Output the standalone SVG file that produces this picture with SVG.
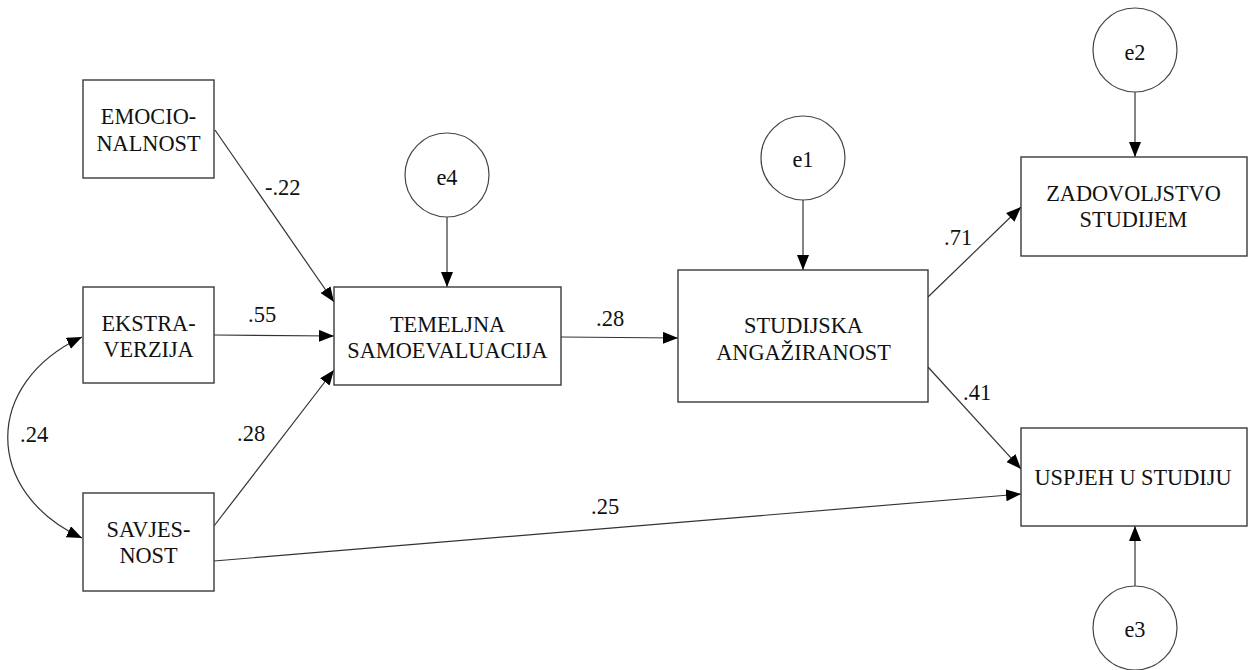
<svg xmlns="http://www.w3.org/2000/svg" width="1249" height="670" viewBox="0 0 1249 670">
<style>
.box{fill:#fff;stroke:#3a3a3a;stroke-width:1.4}
.err{fill:#fff;stroke:#444;stroke-width:1.2}
.con{fill:none;stroke:#333;stroke-width:1.2;marker-end:url(#ah)}
</style>
<defs>
<marker id="ah" markerUnits="userSpaceOnUse" markerWidth="16" markerHeight="13" refX="15" refY="6" orient="auto-start-reverse">
<path d="M0,0 L15,6 L0,12 z" fill="#000"/>
</marker>
</defs>
<rect width="1249" height="670" fill="#fff"/>
<g id="connectors">
<path class="con" d="M215,130 L334,302"/>
<path class="con" d="M214,335 L334,336"/>
<path class="con" d="M214,526 L334,370"/>
<path class="con" d="M447,217 L447,287"/>
<path class="con" d="M561,337 L678,338"/>
<path class="con" d="M803,200 L803,270"/>
<path class="con" d="M928,297 L1021,207"/>
<path class="con" d="M928,367 L1021,469"/>
<path class="con" d="M214,561 L1021,494"/>
<path class="con" d="M1135,91 L1135,157"/>
<path class="con" d="M1135,586 L1135,526"/>
<path class="con" d="M82,337 C-17,383 -17,492 82,538" style="marker-start:url(#ah)"/>
<g font-family="'Liberation Serif', 'Times New Roman', serif" font-size="22.5" fill="#111">
<text x="265" y="195">-.22</text>
<text x="248" y="322">.55</text>
<text x="237" y="441">.28</text>
<text x="20" y="442">.24</text>
<text x="596" y="326">.28</text>
<text x="944" y="245">.71</text>
<text x="963" y="400">.41</text>
<text x="591" y="514">.25</text>
</g>
</g>
<g font-family="'Liberation Serif', 'Times New Roman', serif" font-size="22.3" fill="#111" text-anchor="middle">
<g id="emocionalnost">
<rect class="box" x="83" y="80" width="131" height="98"/>
<text x="148.5" y="124">EMOCIO-</text>
<text x="148.5" y="151">NALNOST</text>
</g>
<g id="ekstraverzija">
<rect class="box" x="83" y="287" width="131" height="96"/>
<text x="148.5" y="331">EKSTRA-</text>
<text x="148.5" y="357">VERZIJA</text>
</g>
<g id="savjesnost">
<rect class="box" x="83" y="493" width="131" height="98"/>
<text x="148.5" y="537">SAVJES-</text>
<text x="148.5" y="563">NOST</text>
</g>
<g id="temeljna">
<rect class="box" x="334" y="287" width="227" height="98"/>
<text x="447.5" y="332">TEMELJNA</text>
<text x="447.5" y="358">SAMOEVALUACIJA</text>
</g>
<g id="studijska">
<rect class="box" x="678" y="270" width="250" height="132"/>
<text x="803.5" y="333">STUDIJSKA</text>
<text x="803.5" y="360">ANGAŽIRANOST</text>
</g>
<g id="zadovoljstvo">
<rect class="box" x="1021" y="157" width="226" height="99"/>
<text x="1133.5" y="201">ZADOVOLJSTVO</text>
<text x="1133.5" y="227">STUDIJEM</text>
</g>
<g id="uspjeh">
<rect class="box" x="1021" y="428" width="226" height="98"/>
<text x="1133" y="485">USPJEH U STUDIJU</text>
</g>
<g id="e4">
<circle class="err" cx="447" cy="175" r="42"/>
<text x="447" y="185">e4</text>
</g>
<g id="e1">
<circle class="err" cx="803" cy="158" r="42"/>
<text x="803" y="167">e1</text>
</g>
<g id="e2">
<circle class="err" cx="1135" cy="50" r="42"/>
<text x="1135" y="60">e2</text>
</g>
<g id="e3">
<circle class="err" cx="1135" cy="628" r="42"/>
<text x="1135" y="637">e3</text>
</g>
</g>
</svg>
